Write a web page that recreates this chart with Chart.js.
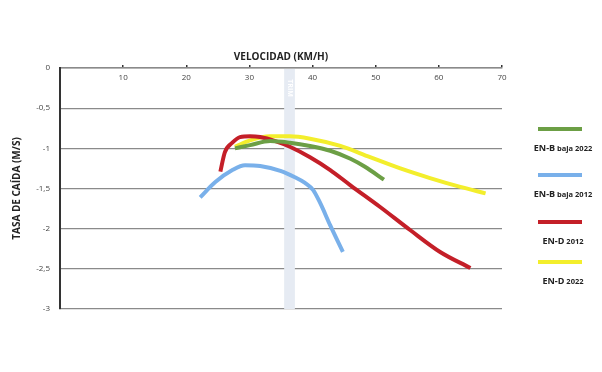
<!DOCTYPE html>
<html>
<head>
<meta charset="utf-8">
<script src="https://cdn.jsdelivr.net/npm/chart.js@4"></script>
<style>
  html, body { margin: 0; padding: 0; background: #fff; }
  #wrap { width: 602px; height: 372px; }
</style>
</head>
<body>
<div id="wrap"><canvas id="chart" width="602" height="372"></canvas></div>
<script>
// velocidad (km/h) / tasa de caida (m/s)
var enb2022X = [27.7, 30.1, 33.3, 36.4, 39.6, 42.8, 46.0, 48.3, 51.3];
var enb2022Y = [-1.00, -0.96, -0.91, -0.93, -0.97, -1.03, -1.13, -1.23, -1.39];

var enb2012X = [22.2, 24.6, 27.3, 29.3, 31.7, 34.9, 37.2, 38.8, 40.1, 41.2, 42.8, 44.8];
var enb2012Y = [-1.61, -1.42, -1.27, -1.21, -1.22, -1.28, -1.36, -1.43, -1.52, -1.68, -1.96, -2.29];

var end2012X = [25.4, 26.1, 27.3, 28.5, 30.1, 31.7, 34.1, 36.4, 39.6, 42.8, 46.0, 50.7, 55.5, 60.2, 65.0];
var end2012Y = [-1.29, -1.05, -0.93, -0.86, -0.85, -0.86, -0.91, -0.98, -1.11, -1.27, -1.46, -1.73, -2.02, -2.29, -2.49];

var end2022X = [27.7, 30.1, 33.3, 36.4, 39.6, 44.4, 49.1, 53.9, 58.6, 63.4, 67.4];
var end2022Y = [-0.98, -0.90, -0.85, -0.85, -0.88, -0.97, -1.11, -1.25, -1.37, -1.48, -1.56];

var seriesNames = [["EN-B", "baja 2022"], ["EN-B", "baja 2012"], ["EN-D", "2012"], ["EN-D", "2022"]];
var seriesColors = ["#6c9f45", "#79b0ea", "#c41f28", "#f3ee2c"];
var xTicks = [10, 20, 30, 40, 50, 60, 70];
var trimBand = [35.5, 37.2];

function pts(xs, ys) {
    return xs.map(function (x, i) { return { x: x, y: ys[i] }; });
}

var FONT = "'Open Sans', Lato, sans-serif";

var bandPlugin = {
    id: "trimBand",
    beforeDatasetsDraw: function (chart) {
        var ctx = chart.ctx, a = chart.chartArea, xs = chart.scales.x;
        var x1 = xs.getPixelForValue(trimBand[0]), x2 = xs.getPixelForValue(trimBand[1]);
        ctx.save();
        ctx.fillStyle = "#e6ebf3";
        ctx.fillRect(x1, a.top + 1, x2 - x1, a.bottom - a.top - 1);
        ctx.translate((x1 + x2) / 2, a.top + 20);
        ctx.rotate(Math.PI / 2);
        ctx.fillStyle = "#ffffff";
        ctx.font = "bold 7px " + FONT;
        ctx.textAlign = "center";
        ctx.textBaseline = "middle";
        ctx.fillText("TRIM", 0, 0);
        ctx.restore();
    }
};

// x labels sit under the top axis line, title above it
var topAxisPlugin = {
    id: "topAxis",
    afterDraw: function (chart) {
        var ctx = chart.ctx, a = chart.chartArea, xs = chart.scales.x;
        ctx.save();
        ctx.fillStyle = "#444";
        ctx.font = "8px " + FONT;
        ctx.textAlign = "center";
        ctx.textBaseline = "middle";
        xTicks.forEach(function (v) {
            ctx.fillText(String(v), xs.getPixelForValue(v), a.top + 10);
        });
        ctx.fillStyle = "#222";
        ctx.font = "bold 10px " + FONT;
        ctx.fillText("VELOCIDAD (KM/H)", (a.left + a.right) / 2, a.top - 11);
        ctx.restore();
    }
};

var legendPlugin = {
    id: "sideLegend",
    afterDraw: function (chart) {
        var ctx = chart.ctx;
        var lineY = [129, 175, 222, 262];
        ctx.save();
        chart.data.datasets.forEach(function (ds, i) {
            ctx.strokeStyle = ds.borderColor;
            ctx.lineWidth = 4;
            ctx.beginPath();
            ctx.moveTo(538, lineY[i]);
            ctx.lineTo(582, lineY[i]);
            ctx.stroke();
            var main = seriesNames[i][0], rest = " " + seriesNames[i][1];
            ctx.font = "bold 9px " + FONT;
            var w1 = ctx.measureText(main).width;
            ctx.font = "bold 7.5px " + FONT;
            var w2 = ctx.measureText(rest).width;
            var x0 = 563 - (w1 + w2) / 2, ty = lineY[i] + 22;
            ctx.fillStyle = "#222";
            ctx.textBaseline = "alphabetic";
            ctx.font = "bold 9px " + FONT;
            ctx.fillText(main, x0, ty);
            ctx.font = "bold 7.5px " + FONT;
            ctx.fillText(rest, x0 + w1, ty);
        });
        ctx.restore();
    }
};

var chart = new Chart(document.getElementById("chart"), {
    type: "scatter",
    data: {
        datasets: [
            { label: seriesNames[0].join(" "), data: pts(enb2022X, enb2022Y), borderColor: seriesColors[0] },
            { label: seriesNames[1].join(" "), data: pts(enb2012X, enb2012Y), borderColor: seriesColors[1] },
            { label: seriesNames[2].join(" "), data: pts(end2012X, end2012Y), borderColor: seriesColors[2] },
            { label: seriesNames[3].join(" "), data: pts(end2022X, end2022Y), borderColor: seriesColors[3] }
        ].map(function (d) {
            d.showLine = true;
            d.borderWidth = 4;
            d.pointRadius = 0;
            d.cubicInterpolationMode = "monotone";
            d.fill = false;
            d.backgroundColor = d.borderColor;
            return d;
        })
    },
    options: {
        responsive: false,
        animation: false,
        layout: { padding: { top: 62, right: 100, bottom: 63, left: 0 } },
        plugins: { legend: { display: false }, tooltip: { enabled: false } },
        scales: {
            x: {
                type: "linear",
                position: "top",
                min: 0,
                max: 70,
                afterBuildTicks: function (s) {
                    s.ticks = xTicks.map(function (v) { return { value: v }; });
                },
                afterFit: function (s) { s.height = 6; },
                border: { color: "#8a8a8a", width: 1.5 },
                grid: { drawOnChartArea: false, drawTicks: true, tickLength: 3, color: "#333", lineWidth: 1.5 },
                ticks: { display: false },
                title: { display: false }
            },
            y: {
                min: -3,
                max: 0,
                afterFit: function (s) { s.width = 60; },
                border: { color: "#333", width: 2 },
                grid: { drawTicks: false, color: "#8a8a8a", lineWidth: 1.3 },
                ticks: {
                    stepSize: 0.5,
                    padding: 10,
                    color: "#444",
                    font: { family: FONT, size: 8 },
                    callback: function (v) { return String(v).replace(".", ","); }
                },
                title: {
                    display: true,
                    text: "TASA DE CAÍDA (M/S)",
                    color: "#222",
                    padding: { top: 11, bottom: 0 },
                    font: { family: FONT, size: 10, weight: "bold" }
                }
            }
        }
    },
    plugins: [bandPlugin, topAxisPlugin, legendPlugin]
});
</script>
</body>
</html>
